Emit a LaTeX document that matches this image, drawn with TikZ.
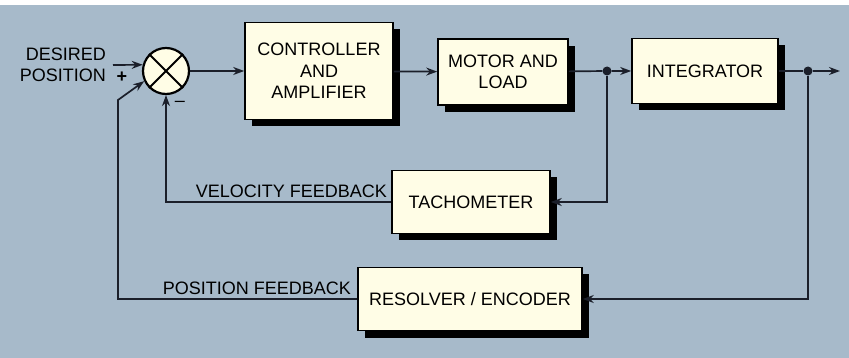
\documentclass[tikz,border=0pt]{standalone}
\usepackage{fontspec}
\setmainfont{Liberation Sans}
\usepackage{xcolor}
\usepackage{tikz}
\usetikzlibrary{arrows.meta,shapes,shadows}
\definecolor{panel}{HTML}{A7BACA}
\definecolor{paper}{HTML}{FFFDE6}
\definecolor{ink}{HTML}{1B1F2A}

\begin{document}
\begin{tikzpicture}[x=1pt,y=-1pt,>={Stealth[length=11pt,width=8pt]},
  font=\fontsize{18}{21.5}\selectfont,
  blk/.style={draw=black,line width=1.6pt,fill=paper,align=center,inner sep=0pt,
    drop shadow={shadow xshift=7pt,shadow yshift=-7pt,opacity=1,fill=black}},
  wire/.style={draw=ink,line width=1.7pt},
  dot/.style={circle,fill=ink,inner sep=0pt,minimum size=9pt}]
\fill[white](0,0)rectangle(849,358);
\fill[panel](0,5)rectangle(849,358);
\node[blk,minimum width=148pt,minimum height=97pt](ctrl)at(319,71){CONTROLLER\\AND\\AMPLIFIER};
\node[blk,minimum width=130pt,minimum height=66pt](mot)at(503,72){MOTOR AND\\LOAD};
\node[blk,minimum width=146pt,minimum height=65pt](integ)at(705,71){INTEGRATOR};
\node[blk,minimum width=158pt,minimum height=63pt](tach)at(471,202){TACHOMETER};
\node[blk,minimum width=224pt,minimum height=63pt](res)at(470,299){RESOLVER / ENCODER};
\node[circle,draw=black,line width=2.2pt,fill=paper,minimum size=46pt,inner sep=0pt](sum)at(166,71){};
\draw[line width=2pt](sum.north east)--(sum.south west)(sum.north west)--(sum.south east);
\node[dot](j1)at(607,71){};
\node[dot](j2)at(808,71){};
\coordinate(in)at(113,65);
\coordinate(out)at(840,71);
\coordinate(pf)at(118,100);
\draw[wire,->](in)--(sum.165);
\draw[wire,->](sum)--(ctrl);
\draw[wire,->](ctrl)--(mot);
\draw[wire,->](mot)--(j1)--(integ);
\draw[wire,->](integ)--(j2)--(out);
\draw[wire,->](j1)|-(tach);
\draw[wire,->](tach)-|(sum);
\draw[wire,->](j2)|-(res);
\draw[wire,->](res)-|(pf)--(sum.205);
\node[align=right,anchor=east,inner sep=0pt](dp)at(106,65){DESIRED\\POSITION};
\node(plus)at(122,77){\textbf{+}};
\node(minus)at(180,104){--};
\node[anchor=south east,inner sep=0pt](vfb)at([xshift=-4pt,yshift=4pt]tach.west){VELOCITY FEEDBACK};
\node[anchor=south east,inner sep=0pt](pfb)at([xshift=-6pt,yshift=4pt]res.west){POSITION FEEDBACK};
\end{tikzpicture}
\end{document}
